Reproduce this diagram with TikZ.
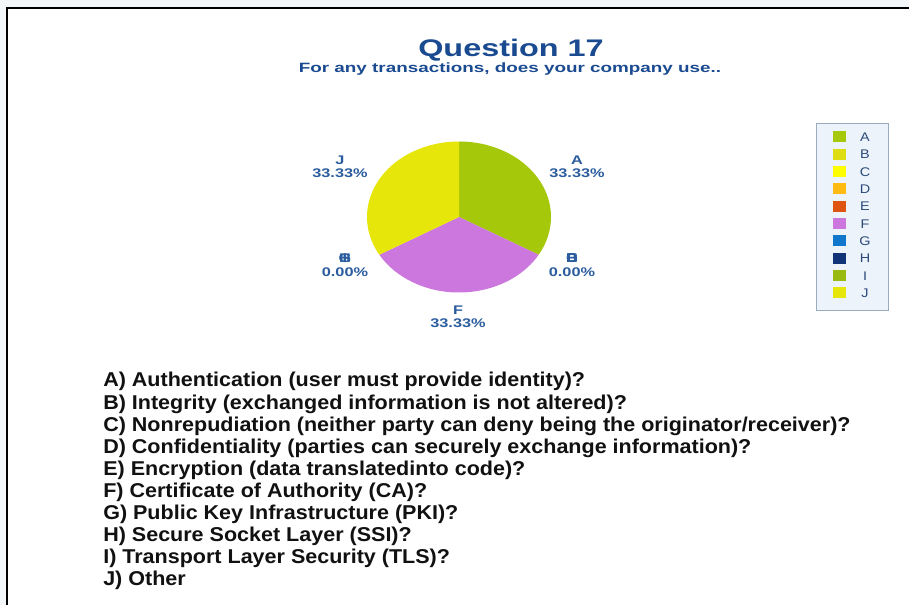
\documentclass[tikz,border=0pt]{standalone}
\usepackage{fontspec}
\setmainfont{Liberation Sans}
\usepackage{graphicx}
\definecolor{outbg}{HTML}{F3F7FA}
\definecolor{titleblue}{HTML}{1A4A90}
\definecolor{lblblue}{HTML}{2A5C9E}
\definecolor{legtext}{HTML}{2B4A7A}
\definecolor{legfill}{HTML}{EDF3FA}
\definecolor{legdraw}{HTML}{9AABBE}
\definecolor{cA}{HTML}{A6C80A}
\definecolor{cB}{HTML}{DDDD11}
\definecolor{cC}{HTML}{FFFF00}
\definecolor{cD}{HTML}{FFBB11}
\definecolor{cE}{HTML}{DD5511}
\definecolor{cF}{HTML}{CC77DD}
\definecolor{cG}{HTML}{1177CC}
\definecolor{cH}{HTML}{113377}
\definecolor{cI}{HTML}{99BB11}
\definecolor{cJ}{HTML}{E6E60A}
\definecolor{txtblack}{HTML}{111111}
\newcommand{\stretchx}[2]{\scalebox{#1}[1]{#2}}
\newcommand{\overlet}[1]{\makebox[0pt]{#1}}
\newcommand{\qtext}[1]{\scalebox{1.076}[1]{#1}}
\begin{document}
\begin{tikzpicture}[x=0.75pt,y=-0.75pt,
  pielbl/.style={font=\bfseries\fontsize{9.4pt}{10pt}\selectfont, text=lblblue, inner sep=0pt, anchor=base},
  legswatch/.style={minimum width=13*0.75pt, minimum height=11*0.75pt, inner sep=0pt},
  legletter/.style={font=\fontsize{9.4pt}{10pt}\selectfont, text=legtext, inner sep=0pt, anchor=base},
  qline/.style={font=\bfseries\fontsize{15pt}{16pt}\selectfont, text=txtblack, inner sep=0pt, anchor=base west}]
\useasboundingbox (0,0) rectangle (909,605);
\fill[outbg] (0,0) rectangle (909,605);
\fill[white] (7,8) rectangle (909,605);
\draw[black, line width=2.2pt] (7,605) -- (7,8) -- (909,8);
% titles
\node[font=\bfseries\fontsize{18pt}{20pt}\selectfont, text=titleblue, inner sep=0pt, anchor=base] (title) at (511,57) {\stretchx{1.35}{Question 17}};
\node[font=\bfseries\fontsize{10.1pt}{11pt}\selectfont, text=titleblue, inner sep=0pt, anchor=base] (subtitle) at (510,72.5) {\stretchx{1.4}{For any transactions, does your company use..}};
% pie
\coordinate (pc) at (459,217);
\fill[cA] (pc) -- (459,141.5) arc[start angle=-90, end angle=30, x radius=92, y radius=75.5] -- cycle;
\fill[cF] (pc) -- (538.67,254.75) arc[start angle=30, end angle=150, x radius=92, y radius=75.5] -- cycle;
\fill[cJ] (pc) -- (379.33,254.75) arc[start angle=150, end angle=270, x radius=92, y radius=75.5] -- cycle;
% pie labels
\node[pielbl] (lJ) at (340,165) {\stretchx{1.3}{J}};
\node[pielbl] (pJ) at (340,177.5) {\stretchx{1.3}{33.33\%}};
\node[pielbl] (lA) at (577,165) {\stretchx{1.3}{A}};
\node[pielbl] (pA) at (577,177.5) {\stretchx{1.3}{33.33\%}};
\node[pielbl] (lG) at (345,263) {\stretchx{1.3}{\overlet{G}\overlet{H}\overlet{I}}};
\node[pielbl] (pG) at (345,277) {\stretchx{1.3}{0.00\%}};
\node[pielbl] (lB) at (572,263) {\stretchx{1.3}{\overlet{B}\overlet{C}\overlet{D}\overlet{E}}};
\node[pielbl] (pB) at (572,277) {\stretchx{1.3}{0.00\%}};
\node[pielbl] (lF) at (458,315) {\stretchx{1.3}{F}};
\node[pielbl] (pF) at (458,327.5) {\stretchx{1.3}{33.33\%}};
% legend
\node[draw=legdraw, fill=legfill, line width=0.6pt, minimum width=72*0.75pt, minimum height=187*0.75pt, inner sep=0pt, anchor=north west] (legend) at (816,123) {};
\foreach \l/\c [count=\i from 0] in {A/cA,B/cB,C/cC,D/cD,E/cE,F/cF,G/cG,H/cH,I/cI,J/cJ}{
  \node[legswatch, fill=\c] (sw\l) at (839.5,137+17.33*\i) {};
  \node[legletter] (lt\l) at (865,141.5+17.33*\i) {\stretchx{1.15}{\l}};
}
% question list
\node[qline] (qA) at (103,387) {\qtext{A) Authentication (user must provide identity)?}};
\node[qline] (qB) at (103,409.1) {\qtext{B) Integrity (exchanged information is not altered)?}};
\node[qline] (qC) at (103,431.2) {\qtext{C) Nonrepudiation (neither party can deny being the originator/receiver)?}};
\node[qline] (qD) at (103,453.3) {\qtext{D) Confidentiality (parties can securely exchange information)?}};
\node[qline] (qE) at (103,475.4) {\qtext{E) Encryption (data translatedinto code)?}};
\node[qline] (qF) at (103,497.5) {\qtext{F) Certificate of Authority (CA)?}};
\node[qline] (qG) at (103,519.6) {\qtext{G) Public Key Infrastructure (PKI)?}};
\node[qline] (qH) at (103,541.7) {\qtext{H) Secure Socket Layer (SSI)?}};
\node[qline] (qI) at (103,563.8) {\qtext{I) Transport Layer Security (TLS)?}};
\node[qline] (qJ) at (103,585.9) {\qtext{J) Other}};
\end{tikzpicture}
\end{document}
